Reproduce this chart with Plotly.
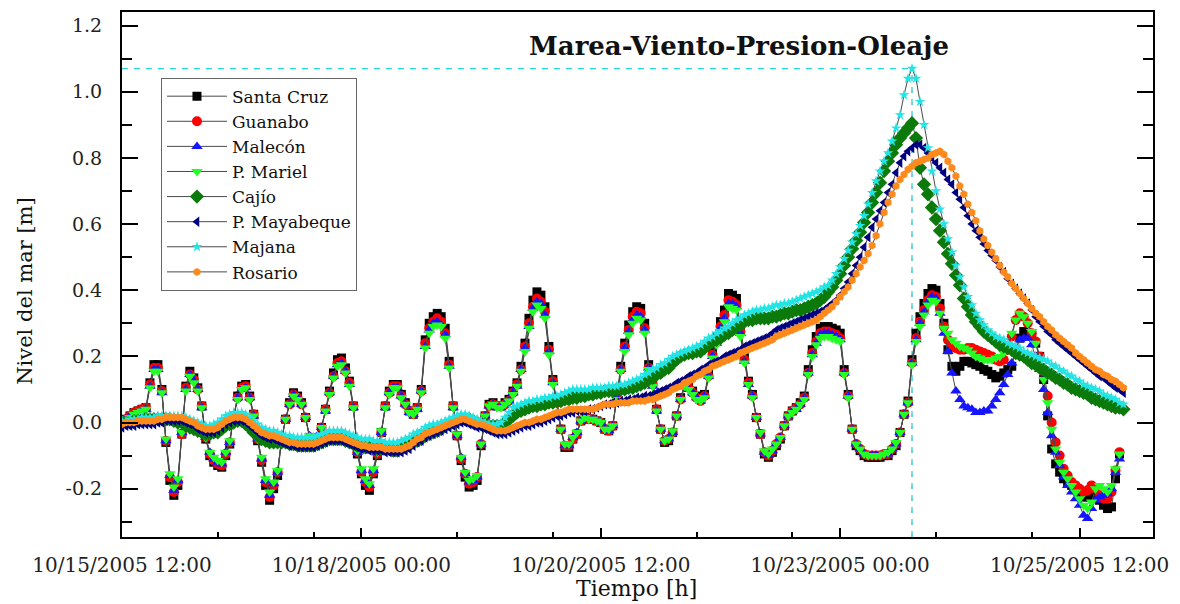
import numpy as np
import pandas as pd
import plotly.graph_objects as go

# Hourly sea level [m] at each station, starting 10/15/2005 12:00
START = "2005-10-15 12:00"

santa_cruz = [
    0.00, 0.01, 0.02, 0.03, 0.035, 0.04, 0.045, 0.12, 0.175, 0.175,
    0.10, -0.06, -0.175, -0.22, -0.19, -0.035, 0.11, 0.155, 0.135, 0.105,
    0.05, -0.05, -0.10, -0.12, -0.13, -0.135, -0.10, -0.065, 0.02, 0.08,
    0.11, 0.115, 0.08, 0.025, -0.055, -0.12, -0.19, -0.235, -0.20, -0.16,
    -0.055, 0.01, 0.06, 0.09, 0.08, 0.06, 0.015, -0.045, -0.07, -0.045,
    -0.015, 0.04, 0.095, 0.15, 0.19, 0.195, 0.165, 0.125, 0.05, -0.095,
    -0.155, -0.19, -0.205, -0.155, -0.10, -0.03, 0.05, 0.095, 0.115, 0.115,
    0.085, 0.06, 0.035, 0.025, 0.045, 0.10, 0.25, 0.30, 0.32, 0.33,
    0.32, 0.285, 0.185, 0.05, -0.04, -0.115, -0.165, -0.195, -0.19, -0.175,
    -0.07, 0.02, 0.055, 0.06, 0.05, 0.05, 0.06, 0.07, 0.095, 0.12,
    0.17, 0.24, 0.315, 0.37, 0.395, 0.385, 0.35, 0.23, 0.13, 0.065,
    -0.02, -0.075, -0.075, -0.05, -0.035, 0.005, 0.015, 0.01, 0.01, 0.005,
    0.00, -0.02, -0.025, -0.01, 0.08, 0.17, 0.24, 0.295, 0.335, 0.35,
    0.345, 0.30, 0.175, 0.12, 0.04, -0.02, -0.06, -0.055, -0.03, 0.02,
    0.075, 0.12, 0.11, 0.095, 0.08, 0.07, 0.085, 0.15, 0.215, 0.26,
    0.305, 0.34, 0.39, 0.385, 0.375, 0.29, 0.20, 0.125, 0.085, 0.015,
    -0.035, -0.095, -0.105, -0.09, -0.07, -0.05, -0.01, 0.02, 0.035, 0.045,
    0.06, 0.08, 0.16, 0.22, 0.26, 0.285, 0.29, 0.29, 0.285, 0.28,
    0.27, 0.16, 0.085, -0.02, -0.07, -0.085, -0.10, -0.105, -0.105, -0.105,
    -0.105, -0.10, -0.10, -0.085, -0.07, -0.03, 0.025, 0.065, 0.19, 0.27,
    0.32, 0.36, 0.39, 0.405, 0.40, 0.36, 0.30, 0.22, 0.17, 0.155,
    0.17, 0.185, 0.185, 0.18, 0.175, 0.17, 0.16, 0.155, 0.145, 0.135,
    0.14, 0.15, 0.16, 0.17, 0.22, 0.255, 0.275, 0.27, 0.265, 0.24,
    0.20, 0.13, 0.02, -0.08, -0.125, -0.15, -0.17, -0.18, -0.19, -0.20,
    -0.215, -0.225, -0.225, -0.225, -0.23, -0.235, -0.25, -0.26, -0.255, -0.17,
    -0.095,
]

guanabo = [
    0.00, 0.01, 0.02, 0.03, 0.035, 0.04, 0.045, 0.115, 0.165, 0.165,
    0.095, -0.055, -0.165, -0.21, -0.18, -0.035, 0.105, 0.145, 0.13, 0.10,
    0.05, -0.045, -0.095, -0.115, -0.125, -0.13, -0.095, -0.06, 0.02, 0.075,
    0.105, 0.11, 0.075, 0.025, -0.05, -0.115, -0.18, -0.225, -0.19, -0.15,
    -0.05, 0.01, 0.055, 0.085, 0.075, 0.055, 0.015, -0.045, -0.065, -0.045,
    -0.015, 0.04, 0.09, 0.14, 0.18, 0.185, 0.155, 0.12, 0.05, -0.09,
    -0.15, -0.18, -0.195, -0.15, -0.095, -0.03, 0.05, 0.09, 0.11, 0.11,
    0.08, 0.055, 0.035, 0.025, 0.045, 0.095, 0.24, 0.285, 0.305, 0.315,
    0.305, 0.27, 0.175, 0.05, -0.04, -0.11, -0.155, -0.185, -0.18, -0.165,
    -0.065, 0.02, 0.05, 0.055, 0.05, 0.05, 0.055, 0.065, 0.09, 0.115,
    0.16, 0.23, 0.30, 0.35, 0.375, 0.365, 0.335, 0.22, 0.125, 0.06,
    -0.02, -0.07, -0.07, -0.05, -0.035, 0.005, 0.015, 0.01, 0.01, 0.005,
    0.00, -0.02, -0.025, -0.01, 0.075, 0.16, 0.23, 0.28, 0.32, 0.335,
    0.33, 0.285, 0.165, 0.115, 0.04, -0.02, -0.055, -0.05, -0.03, 0.02,
    0.07, 0.115, 0.105, 0.09, 0.075, 0.065, 0.08, 0.14, 0.205, 0.25,
    0.29, 0.325, 0.37, 0.365, 0.355, 0.275, 0.19, 0.12, 0.08, 0.015,
    -0.035, -0.09, -0.10, -0.085, -0.065, -0.045, -0.01, 0.02, 0.035, 0.045,
    0.055, 0.075, 0.15, 0.21, 0.245, 0.27, 0.275, 0.275, 0.27, 0.265,
    0.255, 0.15, 0.08, -0.02, -0.065, -0.08, -0.095, -0.10, -0.10, -0.10,
    -0.10, -0.095, -0.095, -0.08, -0.065, -0.03, 0.025, 0.06, 0.18, 0.255,
    0.305, 0.34, 0.37, 0.385, 0.38, 0.345, 0.29, 0.25, 0.235, 0.225,
    0.22, 0.22, 0.225, 0.225, 0.22, 0.215, 0.21, 0.205, 0.20, 0.19,
    0.185, 0.19, 0.22, 0.26, 0.31, 0.33, 0.32, 0.30, 0.27, 0.245,
    0.20, 0.155, 0.08, 0.00, -0.06, -0.10, -0.14, -0.16, -0.18, -0.19,
    -0.20, -0.21, -0.205, -0.19, -0.20, -0.22, -0.23, -0.23, -0.21, -0.145,
    -0.09,
]

malecon = [
    0.00, 0.01, 0.02, 0.025, 0.03, 0.035, 0.04, 0.11, 0.16, 0.16,
    0.09, -0.055, -0.16, -0.205, -0.175, -0.03, 0.10, 0.145, 0.125, 0.10,
    0.045, -0.045, -0.09, -0.11, -0.12, -0.125, -0.09, -0.06, 0.02, 0.075,
    0.10, 0.105, 0.075, 0.02, -0.05, -0.11, -0.175, -0.22, -0.185, -0.15,
    -0.05, 0.01, 0.055, 0.085, 0.075, 0.055, 0.015, -0.04, -0.065, -0.04,
    -0.015, 0.035, 0.09, 0.14, 0.175, 0.18, 0.155, 0.115, 0.045, -0.09,
    -0.145, -0.175, -0.19, -0.145, -0.09, -0.03, 0.045, 0.09, 0.105, 0.105,
    0.08, 0.055, 0.03, 0.025, 0.04, 0.095, 0.23, 0.28, 0.30, 0.305,
    0.295, 0.265, 0.17, 0.045, -0.04, -0.105, -0.155, -0.18, -0.175, -0.165,
    -0.065, 0.02, 0.05, 0.055, 0.045, 0.045, 0.055, 0.065, 0.09, 0.11,
    0.16, 0.225, 0.29, 0.345, 0.365, 0.36, 0.325, 0.215, 0.12, 0.06,
    -0.02, -0.07, -0.07, -0.045, -0.03, 0.005, 0.015, 0.01, 0.01, 0.005,
    0.00, -0.02, -0.025, -0.01, 0.075, 0.16, 0.225, 0.275, 0.31, 0.325,
    0.32, 0.28, 0.165, 0.11, 0.035, -0.02, -0.055, -0.05, -0.03, 0.02,
    0.07, 0.11, 0.10, 0.09, 0.075, 0.065, 0.08, 0.14, 0.20, 0.24,
    0.285, 0.315, 0.36, 0.36, 0.35, 0.27, 0.185, 0.115, 0.08, 0.015,
    -0.035, -0.09, -0.10, -0.085, -0.065, -0.045, -0.01, 0.02, 0.035, 0.04,
    0.055, 0.075, 0.15, 0.205, 0.24, 0.265, 0.27, 0.27, 0.265, 0.26,
    0.25, 0.15, 0.08, -0.02, -0.065, -0.08, -0.095, -0.10, -0.10, -0.10,
    -0.10, -0.095, -0.095, -0.08, -0.065, -0.03, 0.025, 0.06, 0.18, 0.25,
    0.30, 0.335, 0.365, 0.38, 0.375, 0.33, 0.27, 0.215, 0.15, 0.095,
    0.07, 0.05, 0.045, 0.04, 0.03, 0.03, 0.035, 0.035, 0.05, 0.07,
    0.09, 0.115, 0.145, 0.18, 0.22, 0.25, 0.255, 0.255, 0.235, 0.20,
    0.16, 0.10, 0.03, -0.04, -0.09, -0.13, -0.165, -0.19, -0.21, -0.23,
    -0.25, -0.28, -0.29, -0.26, -0.235, -0.225, -0.22, -0.215, -0.20, -0.15,
    -0.11,
]

p_mariel = [
    0.00, 0.01, 0.015, 0.025, 0.03, 0.035, 0.04, 0.105, 0.155, 0.155,
    0.09, -0.05, -0.155, -0.195, -0.17, -0.03, 0.095, 0.14, 0.12, 0.095,
    0.045, -0.045, -0.09, -0.105, -0.115, -0.12, -0.09, -0.055, 0.02, 0.07,
    0.10, 0.105, 0.07, 0.02, -0.05, -0.105, -0.17, -0.21, -0.18, -0.145,
    -0.05, 0.01, 0.055, 0.08, 0.07, 0.055, 0.015, -0.04, -0.06, -0.04,
    -0.015, 0.035, 0.085, 0.135, 0.17, 0.175, 0.15, 0.11, 0.045, -0.085,
    -0.14, -0.17, -0.185, -0.14, -0.09, -0.025, 0.045, 0.085, 0.105, 0.105,
    0.075, 0.055, 0.03, 0.025, 0.04, 0.09, 0.225, 0.27, 0.29, 0.295,
    0.29, 0.255, 0.165, 0.045, -0.035, -0.105, -0.15, -0.175, -0.17, -0.16,
    -0.065, 0.02, 0.05, 0.055, 0.045, 0.045, 0.055, 0.065, 0.085, 0.11,
    0.155, 0.215, 0.285, 0.335, 0.355, 0.345, 0.315, 0.205, 0.115, 0.06,
    -0.02, -0.065, -0.065, -0.045, -0.03, 0.005, 0.015, 0.01, 0.01, 0.005,
    0.00, -0.02, -0.02, -0.01, 0.07, 0.155, 0.215, 0.265, 0.30, 0.315,
    0.31, 0.27, 0.16, 0.11, 0.035, -0.02, -0.055, -0.05, -0.025, 0.02,
    0.07, 0.11, 0.10, 0.085, 0.07, 0.065, 0.075, 0.135, 0.195, 0.235,
    0.275, 0.305, 0.35, 0.345, 0.34, 0.26, 0.18, 0.115, 0.075, 0.015,
    -0.03, -0.085, -0.095, -0.08, -0.065, -0.045, -0.01, 0.02, 0.03, 0.04,
    0.055, 0.07, 0.145, 0.20, 0.235, 0.255, 0.26, 0.26, 0.255, 0.25,
    0.245, 0.145, 0.075, -0.02, -0.065, -0.08, -0.095, -0.10, -0.10, -0.10,
    -0.10, -0.095, -0.09, -0.08, -0.06, -0.03, 0.025, 0.06, 0.175, 0.245,
    0.29, 0.325, 0.355, 0.37, 0.365, 0.33, 0.285, 0.27, 0.25, 0.24,
    0.23, 0.225, 0.22, 0.21, 0.20, 0.195, 0.19, 0.19, 0.19, 0.195,
    0.20, 0.21, 0.235, 0.27, 0.31, 0.33, 0.32, 0.30, 0.275, 0.24,
    0.19, 0.13, 0.06, -0.02, -0.08, -0.12, -0.15, -0.17, -0.19, -0.21,
    -0.23, -0.25, -0.26, -0.24, -0.20, -0.19, -0.20, -0.21, -0.19, -0.14,
    -0.095,
]

cajio = [
    0.0, 0.0, 0.0, 0.005, 0.005, 0.005, 0.01, 0.01, 0.01, 0.01,
    0.01, 0.01, 0.01, 0.005, 0.0, 0.0, -0.01, -0.015, -0.02, -0.025,
    -0.03, -0.035, -0.035, -0.03, -0.03, -0.02, -0.01, -0.005, 0.0, 0.005,
    0.005, -0.005, -0.015, -0.03, -0.04, -0.05, -0.055, -0.06, -0.06, -0.06,
    -0.06, -0.06, -0.065, -0.065, -0.07, -0.07, -0.07, -0.07, -0.07, -0.065,
    -0.06, -0.055, -0.05, -0.05, -0.05, -0.05, -0.055, -0.06, -0.065, -0.07,
    -0.07, -0.075, -0.075, -0.075, -0.08, -0.08, -0.08, -0.08, -0.085, -0.085,
    -0.08, -0.075, -0.07, -0.06, -0.055, -0.05, -0.04, -0.035, -0.03, -0.025,
    -0.02, -0.01, -0.005, 0.0, 0.005, 0.01, 0.01, 0.01, 0.005, 0.0,
    -0.005, -0.005, -0.01, -0.01, -0.01, -0.01, 0.0, 0.01, 0.02, 0.03,
    0.035, 0.04, 0.045, 0.05, 0.05, 0.055, 0.055, 0.06, 0.06, 0.065,
    0.065, 0.07, 0.07, 0.075, 0.075, 0.08, 0.08, 0.085, 0.085, 0.09,
    0.09, 0.095, 0.095, 0.095, 0.10, 0.10, 0.10, 0.105, 0.105, 0.11,
    0.115, 0.12, 0.13, 0.135, 0.145, 0.15, 0.16, 0.165, 0.18, 0.19,
    0.20, 0.205, 0.21, 0.21, 0.215, 0.215, 0.225, 0.235, 0.245, 0.25,
    0.255, 0.265, 0.27, 0.28, 0.29, 0.295, 0.305, 0.31, 0.31, 0.315,
    0.315, 0.315, 0.315, 0.32, 0.32, 0.325, 0.33, 0.33, 0.335, 0.34,
    0.34, 0.345, 0.35, 0.355, 0.36, 0.37, 0.38, 0.395, 0.41, 0.43,
    0.45, 0.475, 0.50, 0.525, 0.55, 0.575, 0.605, 0.635, 0.665, 0.695,
    0.725, 0.76, 0.79, 0.815, 0.84, 0.86, 0.875, 0.89, 0.905, 0.86,
    0.77, 0.72, 0.69, 0.65, 0.615, 0.58, 0.545, 0.51, 0.48, 0.445,
    0.415, 0.375, 0.35, 0.325, 0.305, 0.29, 0.275, 0.265, 0.255, 0.245,
    0.235, 0.23, 0.225, 0.22, 0.21, 0.205, 0.20, 0.19, 0.18, 0.175,
    0.165, 0.16, 0.15, 0.145, 0.135, 0.13, 0.12, 0.115, 0.105, 0.10,
    0.095, 0.09, 0.085, 0.075, 0.07, 0.065, 0.06, 0.055, 0.05, 0.045,
    0.045, 0.04,
]

p_mayabeque = [
    -0.015, -0.01, -0.01, -0.01, -0.005, -0.005, -0.005, -0.005, -0.005, 0.0,
    0.0, 0.005, 0.005, 0.005, 0.005, 0.005, 0.0, -0.005, -0.01, -0.02,
    -0.025, -0.03, -0.03, -0.03, -0.025, -0.015, -0.005, 0.0, 0.005, 0.005,
    0.005, 0.0, -0.01, -0.02, -0.03, -0.04, -0.045, -0.05, -0.05, -0.055,
    -0.06, -0.065, -0.07, -0.07, -0.075, -0.075, -0.075, -0.075, -0.075, -0.07,
    -0.065, -0.06, -0.055, -0.055, -0.055, -0.055, -0.06, -0.065, -0.07, -0.075,
    -0.08, -0.08, -0.085, -0.085, -0.085, -0.085, -0.09, -0.09, -0.09, -0.09,
    -0.09, -0.085, -0.08, -0.07, -0.06, -0.055, -0.045, -0.04, -0.035, -0.03,
    -0.025, -0.02, -0.015, -0.01, -0.005, 0.0, 0.0, -0.005, -0.01, -0.015,
    -0.015, -0.02, -0.025, -0.03, -0.035, -0.035, -0.035, -0.03, -0.025, -0.02,
    -0.015, -0.01, -0.01, -0.005, 0.0, 0.0, 0.005, 0.01, 0.015, 0.02,
    0.02, 0.025, 0.03, 0.03, 0.035, 0.035, 0.035, 0.04, 0.04, 0.045,
    0.05, 0.055, 0.055, 0.06, 0.06, 0.065, 0.065, 0.07, 0.07, 0.075,
    0.075, 0.08, 0.08, 0.085, 0.09, 0.095, 0.10, 0.105, 0.11, 0.12,
    0.125, 0.13, 0.14, 0.145, 0.15, 0.16, 0.165, 0.175, 0.18, 0.185,
    0.19, 0.20, 0.205, 0.21, 0.215, 0.22, 0.23, 0.235, 0.24, 0.245,
    0.25, 0.255, 0.26, 0.27, 0.28, 0.285, 0.29, 0.295, 0.30, 0.305,
    0.31, 0.315, 0.32, 0.325, 0.33, 0.335, 0.34, 0.35, 0.36, 0.37,
    0.385, 0.405, 0.425, 0.45, 0.475, 0.50, 0.53, 0.56, 0.59, 0.615,
    0.64, 0.665, 0.695, 0.72, 0.755, 0.785, 0.805, 0.82, 0.83, 0.84,
    0.84, 0.83, 0.815, 0.80, 0.785, 0.77, 0.755, 0.735, 0.72, 0.695,
    0.675, 0.65, 0.625, 0.60, 0.58, 0.56, 0.54, 0.52, 0.505, 0.49,
    0.47, 0.455, 0.435, 0.42, 0.405, 0.39, 0.375, 0.36, 0.34, 0.32,
    0.305, 0.29, 0.275, 0.265, 0.25, 0.24, 0.23, 0.22, 0.21, 0.20,
    0.19, 0.18, 0.17, 0.16, 0.15, 0.14, 0.135, 0.125, 0.115, 0.105,
    0.10, 0.09,
]

majana = [
    0.005, 0.005, 0.01, 0.01, 0.01, 0.015, 0.015, 0.015, 0.015, 0.02,
    0.02, 0.02, 0.02, 0.02, 0.02, 0.02, 0.015, 0.01, 0.005, 0.0,
    -0.005, -0.01, -0.01, -0.005, 0.0, 0.01, 0.02, 0.025, 0.03, 0.03,
    0.03, 0.025, 0.015, 0.005, -0.005, -0.015, -0.02, -0.025, -0.025, -0.03,
    -0.035, -0.04, -0.04, -0.045, -0.045, -0.045, -0.045, -0.045, -0.045, -0.04,
    -0.035, -0.03, -0.025, -0.025, -0.025, -0.025, -0.03, -0.035, -0.04, -0.045,
    -0.05, -0.05, -0.05, -0.055, -0.055, -0.055, -0.06, -0.06, -0.06, -0.06,
    -0.055, -0.05, -0.045, -0.035, -0.03, -0.025, -0.015, -0.01, -0.005, -0.005,
    0.0, 0.005, 0.01, 0.015, 0.02, 0.025, 0.025, 0.02, 0.015, 0.01,
    0.005, 0.0, -0.005, -0.005, -0.005, 0.0, 0.015, 0.03, 0.045, 0.05,
    0.055, 0.06, 0.065, 0.065, 0.07, 0.07, 0.075, 0.075, 0.08, 0.08,
    0.085, 0.09, 0.095, 0.10, 0.10, 0.10, 0.10, 0.10, 0.105, 0.105,
    0.105, 0.105, 0.11, 0.11, 0.11, 0.115, 0.115, 0.12, 0.125, 0.13,
    0.135, 0.145, 0.15, 0.16, 0.165, 0.175, 0.18, 0.19, 0.20, 0.205,
    0.21, 0.215, 0.22, 0.225, 0.23, 0.235, 0.245, 0.255, 0.26, 0.27,
    0.275, 0.285, 0.29, 0.30, 0.31, 0.315, 0.325, 0.33, 0.335, 0.34,
    0.34, 0.345, 0.345, 0.35, 0.355, 0.355, 0.36, 0.36, 0.365, 0.37,
    0.375, 0.38, 0.385, 0.39, 0.395, 0.40, 0.41, 0.415, 0.43, 0.45,
    0.47, 0.495, 0.52, 0.545, 0.57, 0.595, 0.625, 0.66, 0.695, 0.73,
    0.76, 0.79, 0.815, 0.85, 0.89, 0.93, 0.99, 1.04, 1.07, 1.04,
    0.97, 0.90, 0.83, 0.76, 0.70, 0.645, 0.60, 0.555, 0.515, 0.475,
    0.44, 0.41, 0.38, 0.355, 0.33, 0.31, 0.295, 0.28, 0.27, 0.26,
    0.255, 0.25, 0.24, 0.235, 0.23, 0.225, 0.215, 0.21, 0.205, 0.20,
    0.195, 0.19, 0.185, 0.175, 0.17, 0.16, 0.155, 0.145, 0.14, 0.13,
    0.125, 0.115, 0.11, 0.105, 0.10, 0.095, 0.085, 0.08, 0.075, 0.07,
    0.06, 0.055,
]

rosario = [
    -0.005, 0.0, 0.0, 0.0, 0.005, 0.005, 0.005, 0.005, 0.005, 0.01,
    0.01, 0.015, 0.015, 0.015, 0.015, 0.015, 0.01, 0.005, 0.0, -0.01,
    -0.015, -0.02, -0.02, -0.02, -0.015, -0.005, 0.005, 0.01, 0.015, 0.015,
    0.015, 0.01, 0.0, -0.01, -0.02, -0.03, -0.035, -0.04, -0.04, -0.045,
    -0.05, -0.055, -0.06, -0.06, -0.065, -0.065, -0.065, -0.065, -0.065, -0.06,
    -0.055, -0.05, -0.045, -0.045, -0.045, -0.045, -0.05, -0.055, -0.06, -0.065,
    -0.07, -0.07, -0.075, -0.075, -0.075, -0.075, -0.08, -0.08, -0.08, -0.08,
    -0.08, -0.075, -0.07, -0.06, -0.05, -0.045, -0.035, -0.03, -0.025, -0.02,
    -0.015, -0.01, -0.005, 0.0, 0.005, 0.01, 0.01, 0.005, 0.0, -0.005,
    -0.005, -0.01, -0.015, -0.02, -0.025, -0.025, -0.025, -0.02, -0.015, -0.01,
    -0.005, 0.0, 0.0, 0.005, 0.01, 0.01, 0.015, 0.02, 0.025, 0.03,
    0.03, 0.035, 0.04, 0.04, 0.04, 0.04, 0.04, 0.04, 0.04, 0.045,
    0.05, 0.055, 0.055, 0.055, 0.06, 0.06, 0.06, 0.06, 0.065, 0.065,
    0.065, 0.065, 0.07, 0.07, 0.075, 0.08, 0.085, 0.09, 0.10, 0.105,
    0.11, 0.12, 0.125, 0.13, 0.14, 0.145, 0.155, 0.16, 0.17, 0.175,
    0.18, 0.185, 0.19, 0.195, 0.20, 0.21, 0.215, 0.22, 0.225, 0.23,
    0.235, 0.24, 0.245, 0.25, 0.26, 0.265, 0.27, 0.275, 0.28, 0.285,
    0.29, 0.295, 0.30, 0.305, 0.31, 0.32, 0.33, 0.34, 0.35, 0.365,
    0.38, 0.395, 0.41, 0.43, 0.45, 0.47, 0.49, 0.51, 0.535, 0.565,
    0.60, 0.635, 0.665, 0.69, 0.715, 0.735, 0.75, 0.765, 0.775, 0.785,
    0.79, 0.795, 0.80, 0.81, 0.815, 0.82, 0.81, 0.79, 0.77, 0.745,
    0.715, 0.69, 0.66, 0.635, 0.61, 0.58, 0.555, 0.535, 0.515, 0.495,
    0.475, 0.455, 0.44, 0.42, 0.405, 0.39, 0.375, 0.36, 0.345, 0.33,
    0.32, 0.305, 0.29, 0.28, 0.265, 0.255, 0.245, 0.235, 0.225, 0.21,
    0.20, 0.19, 0.18, 0.17, 0.16, 0.155, 0.145, 0.14, 0.13, 0.125,
    0.115, 0.105,
]

for tide in (santa_cruz, guanabo, malecon, p_mariel):
    assert len(tide) == 251, len(tide)
for surge in (cajio, p_mayabeque, majana, rosario):
    assert len(surge) == 252, len(surge)

# Axis ticks: labels every 2.5 days, minor marks at whole days after each label
major_ticks = ["2005-10-15 12:00", "2005-10-18 00:00", "2005-10-20 12:00",
               "2005-10-23 00:00", "2005-10-25 12:00"]
minor_ticks = ["2005-10-16 12:00", "2005-10-17 12:00", "2005-10-19 00:00",
               "2005-10-20 00:00", "2005-10-21 12:00", "2005-10-22 12:00",
               "2005-10-24 00:00", "2005-10-25 00:00"]
x_range = ["2005-10-15 12:00", "2005-10-26 06:24"]
y_range = [-0.346, 1.241]
y_ticks = [-0.2, 0.0, 0.2, 0.4, 0.6, 0.8, 1.0, 1.2]

SERIF = "DejaVu Serif, Liberation Serif, serif"
LINE_GREY = "#4a4a4a"

# name, values, marker colour, symbol, size
stations = [
    ("Santa Cruz", santa_cruz, "#000000", "square", 9),
    ("Guanabo", guanabo, "#ff0000", "circle", 10),
    ("Malecón", malecon, "#1515ff", "triangle-up", 10),
    ("P. Mariel", p_mariel, "#22ff22", "triangle-down", 10),
    ("Cajío", cajio, "#0b7a0b", "diamond", 11),
    ("P. Mayabeque", p_mayabeque, "#000080", "triangle-left", 9),
    ("Majana", majana, "#22e4e4", "star", 8),
    ("Rosario", rosario, "#ff8a1c", "hexagon", 8),
]

fig = go.Figure()
for name, values, color, symbol, size in stations:
    times = pd.date_range(START, periods=len(values), freq="h")
    fig.add_trace(go.Scatter(
        x=times, y=values, name=name, mode="lines+markers",
        line=dict(color=LINE_GREY, width=1),
        marker=dict(symbol=symbol, size=size, color=color, line=dict(width=0)),
    ))

# Dashed read-out lines through the Majana maximum
maj_times = pd.date_range(START, periods=len(majana), freq="h")
i_peak = int(np.argmax(majana))
t_peak, v_peak = maj_times[i_peak], majana[i_peak]
for color, dash, width in (("#f3a3c6", "3px,9px", 1.3), ("#2fd6d6", "6px,6px", 1.3)):
    fig.add_shape(type="line", layer="below", xref="x", yref="y",
                  x0=x_range[0], x1=t_peak, y0=v_peak, y1=v_peak,
                  line=dict(color=color, width=width, dash=dash))
    fig.add_shape(type="line", layer="below", xref="x", yref="y",
                  x0=t_peak, x1=t_peak, y0=y_range[0], y1=v_peak,
                  line=dict(color=color, width=width, dash=dash))

fig.add_annotation(text="<b>Marea-Viento-Presion-Oleaje</b>", xref="paper", yref="paper",
                   x=0.598, y=0.9355, xanchor="center", yanchor="middle", showarrow=False,
                   font=dict(family=SERIF, size=26, color="#111111"))
fig.add_annotation(text="Tiempo [h]", xref="paper", yref="paper",
                   x=0.4995, y=-0.0975, xanchor="center", yanchor="middle", showarrow=False,
                   font=dict(family=SERIF, size=22, color="#111111"))
fig.add_annotation(text="Nivel del mar [m]", xref="paper", yref="paper", textangle=-90,
                   x=-0.0941, y=0.469, xanchor="center", yanchor="middle", showarrow=False,
                   font=dict(family=SERIF, size=21, color="#111111"))

fig.update_layout(
    width=1180, height=604,
    margin=dict(l=122, r=27, t=10, b=67),
    paper_bgcolor="white", plot_bgcolor="white",
    font=dict(family=SERIF, color="#222222"),
    showlegend=True,
    legend=dict(x=0.0378, y=0.875, xanchor="left", yanchor="top",
                bgcolor="white", bordercolor="#666666", borderwidth=1,
                font=dict(family=SERIF, size=17, color="#111111"),
                itemwidth=60, tracegroupgap=0),
    xaxis=dict(
        type="date", range=x_range,
        tickmode="array", tickvals=major_ticks, tickformat="%m/%d/%Y %H:%M",
        ticks="inside", ticklen=9, tickwidth=2, tickcolor="black",
        showline=True, linewidth=2, linecolor="black", mirror=True,
        showgrid=False, zeroline=False,
        tickfont=dict(family=SERIF, size=20, color="#222222"),
        ticklabelstandoff=9,
        minor=dict(tickmode="array", tickvals=minor_ticks, ticks="inside",
                   ticklen=5, tickwidth=2, tickcolor="black", showgrid=False),
    ),
    yaxis=dict(
        range=y_range,
        tickmode="array", tickvals=y_ticks, ticktext=[f"{v:.1f}" for v in y_ticks],
        ticks="inside", ticklen=16, tickwidth=2, tickcolor="black",
        showline=True, linewidth=2, linecolor="black", mirror="ticks",
        showgrid=False, zeroline=False,
        tickfont=dict(family=SERIF, size=19, color="#222222"),
        ticklabelstandoff=14,
        minor=dict(dtick=0.1, tick0=0, ticks="inside", ticklen=10, tickwidth=2,
                   tickcolor="black", showgrid=False),
    ),
)

fig.write_html("out.html", config={"displayModeBar": False})
